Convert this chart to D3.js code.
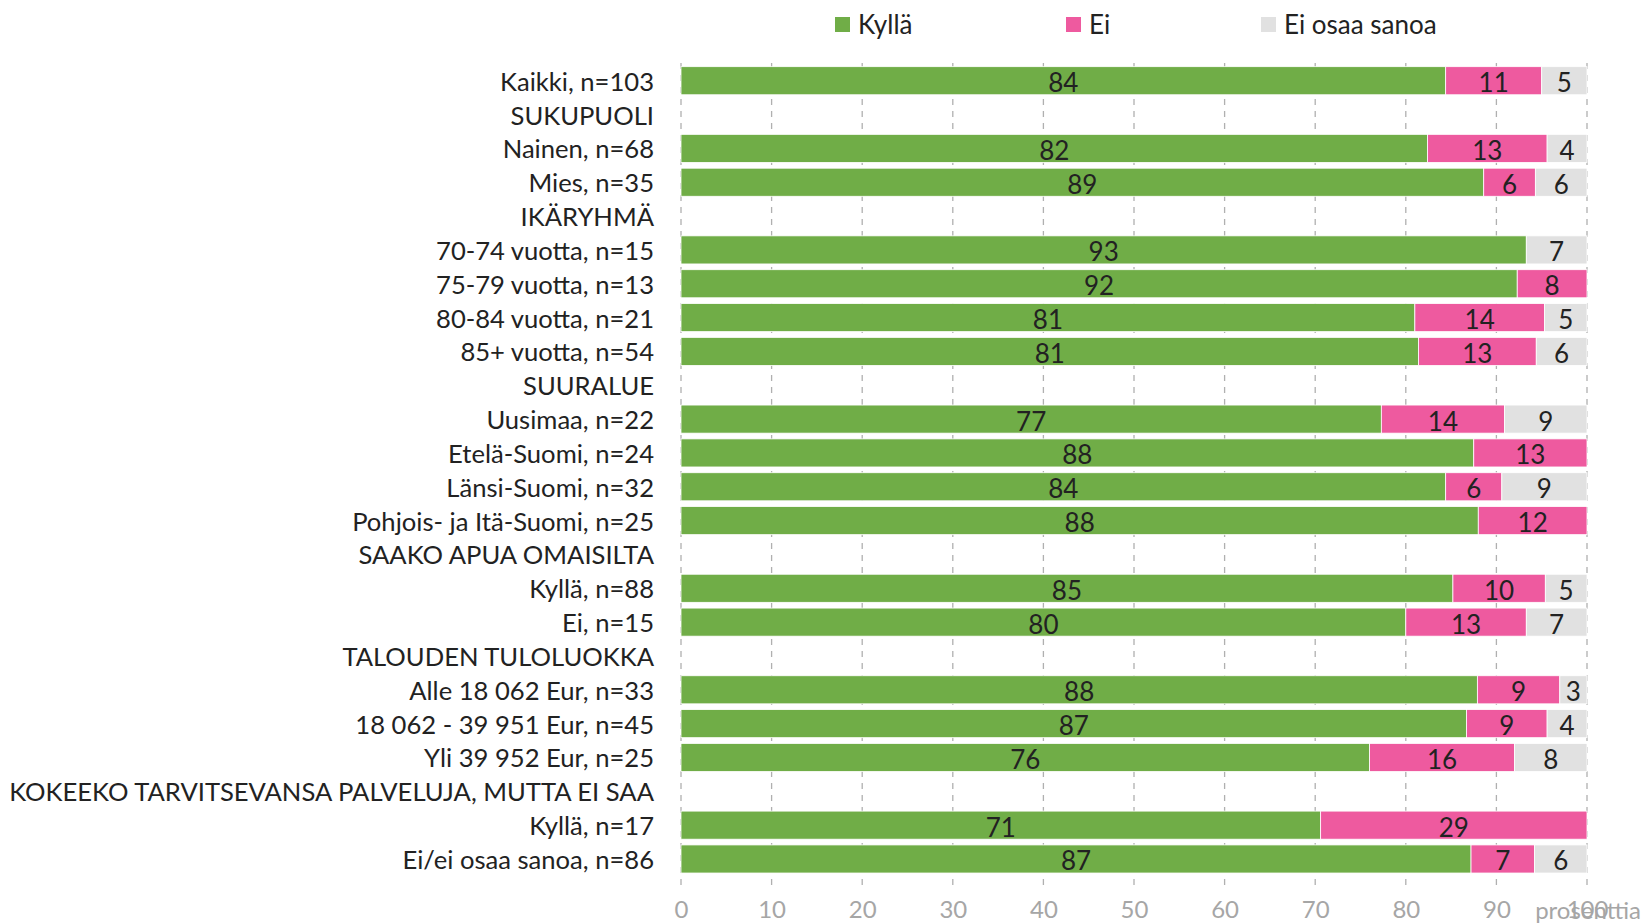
<!DOCTYPE html>
<html><head><meta charset="utf-8">
<script src="https://cdn.jsdelivr.net/npm/d3@7"></script>
<style>body{margin:0;background:#fff}svg{display:block}</style>
</head><body><svg id="c" width="1643" height="923"></svg>
<script>
const categories = ["Kaikki, n=103","SUKUPUOLI","Nainen, n=68","Mies, n=35","IKÄRYHMÄ","70-74 vuotta, n=15","75-79 vuotta, n=13","80-84 vuotta, n=21","85+ vuotta, n=54","SUURALUE","Uusimaa, n=22","Etelä-Suomi, n=24","Länsi-Suomi, n=32","Pohjois- ja Itä-Suomi, n=25","SAAKO APUA OMAISILTA","Kyllä, n=88","Ei, n=15","TALOUDEN TULOLUOKKA","Alle 18 062 Eur, n=33","18 062 - 39 951 Eur, n=45","Yli 39 952 Eur, n=25","KOKEEKO TARVITSEVANSA PALVELUJA, MUTTA EI SAA","Kyllä, n=17","Ei/ei osaa sanoa, n=86"];
const kylla = [84.4,null,82.4,88.6,null,93.3,92.3,81.0,81.4,null,77.3,87.5,84.4,88.0,null,85.2,80.0,null,87.9,86.7,76.0,null,70.6,87.2];
const ei    = [10.6,null,13.2,5.7,null,0,7.7,14.3,13.0,null,13.6,12.5,6.2,12.0,null,10.2,13.3,null,9.1,8.9,16.0,null,29.4,7.0];
const eos   = [5.0,null,4.4,5.7,null,6.7,0,4.7,5.6,null,9.1,0,9.4,0,null,4.6,6.7,null,3.0,4.4,8.0,null,0,5.8];
const seriesNames = ["Kyllä","Ei","Ei osaa sanoa"];
const colors = ["#70AD47","#EE5A9F","#E1E1E1"];
const ticks = [0,10,20,30,40,50,60,70,80,90,100];
const axisTitle = "prosenttia";

const svg = d3.select("#c");
const font = "Lato, 'Open Sans', sans-serif";
const x = d3.scaleLinear().domain([0,100]).range([681,1587]);
const y = d3.scaleBand().domain(d3.range(categories.length)).range([63.8,875.9]).paddingInner(0.17).paddingOuter(0.085);

// grid
const g = svg.append("g");
g.selectAll("line.grid").data(ticks).enter().append("line")
  .attr("x1",d=>x(d)).attr("x2",d=>x(d)).attr("y1",63).attr("y2",890)
  .attr("stroke","#b0b0b0").attr("stroke-width",1.3).attr("stroke-dasharray","6,6");

const rows = categories.map((c,i)=>({i, vals:[kylla[i],ei[i],eos[i]]})).filter(r=>r.vals[0]!=null);
const segs = [];
rows.forEach(r=>{let acc=0; r.vals.forEach((v,k)=>{segs.push({i:r.i,k,x0:acc,x1:acc+v,v}); acc+=v;});});

g.selectAll("rect.seg").data(segs.filter(s=>s.v>0)).enter().append("rect")
  .attr("x",d=>x(d.x0)).attr("width",d=>x(d.x1)-x(d.x0))
  .attr("y",d=>y(d.i)).attr("height",y.bandwidth())
  .attr("fill",d=>colors[d.k]).attr("stroke","#fff").attr("stroke-width",0.8);

g.selectAll("text.lab").data(segs.filter(s=>s.v>0)).enter().append("text")
  .attr("x",d=>(x(d.x0)+x(d.x1))/2).attr("y",d=>y(d.i)+y.bandwidth()/2+1.5)
  .attr("text-anchor","middle").attr("dominant-baseline","central")
  .attr("font-family",font).attr("font-size",26).attr("fill","#222")
  .text(d=>Math.round(d.v));

// category labels
svg.append("g").selectAll("text").data(categories).enter().append("text")
  .attr("x",654).attr("y",(d,i)=>y(i)+y.bandwidth()/2)
  .attr("text-anchor","end").attr("dominant-baseline","central")
  .attr("font-family",font).attr("font-size",25.6).attr("fill","#222")
  .text(d=>d);

// x axis
const ax = d3.axisBottom(x).tickValues(ticks).tickSize(0).tickPadding(0);
const axg = svg.append("g").attr("transform","translate(0,901)").call(ax);
axg.select(".domain").remove();
axg.selectAll("text").attr("font-family",font).attr("font-size",24).attr("fill","#a6a6a6");
svg.append("text").attr("x",1641).attr("y",909).attr("text-anchor","end").attr("dominant-baseline","central")
  .attr("font-family",font).attr("font-size",24).attr("fill","#a6a6a6").text(axisTitle);

// legend
const legX = [835,1066,1261];
const lg = svg.append("g").selectAll("g").data(seriesNames).enter().append("g");
lg.append("rect").attr("x",(d,i)=>legX[i]).attr("y",17).attr("width",15).attr("height",15).attr("fill",(d,i)=>colors[i]);
lg.append("text").attr("x",(d,i)=>legX[i]+23).attr("y",24).attr("dominant-baseline","central")
  .attr("font-family",font).attr("font-size",26).attr("fill","#222").text(d=>d);
</script></body></html>
